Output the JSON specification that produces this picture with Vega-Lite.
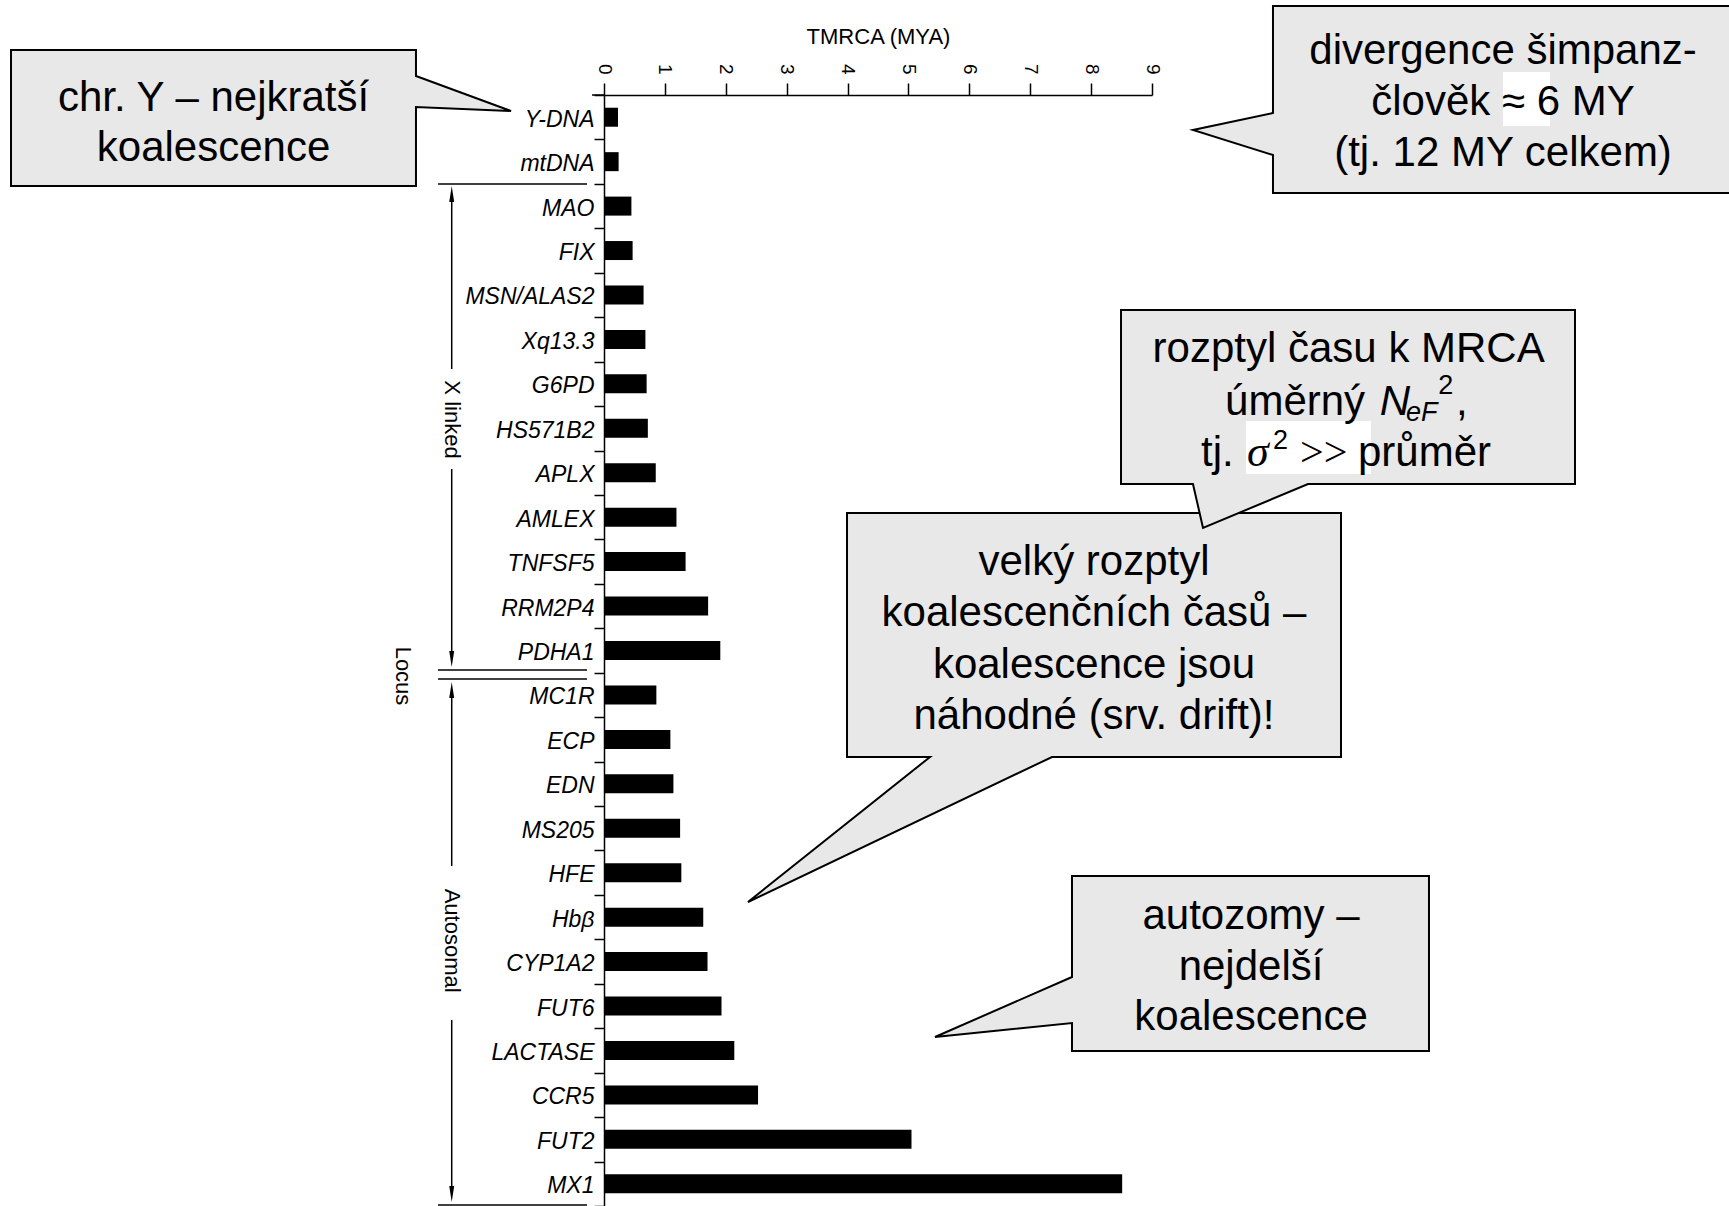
{
  "$schema": "https://vega.github.io/schema/vega-lite/v6.json",
  "autosize": {"type": "none"},
  "padding": {"left": 604, "top": 95, "right": 577, "bottom": 0},
  "width": 548,
  "height": 1111,
  "background": "white",
  "config": {"view": {"stroke": null}, "font": "Liberation Sans"},
  "datasets": {
    "loci": [
      {"locus": "Y-DNA", "tmrca": 0.23},
      {"locus": "mtDNA", "tmrca": 0.24},
      {"locus": "MAO", "tmrca": 0.45},
      {"locus": "FIX", "tmrca": 0.47},
      {"locus": "MSN/ALAS2", "tmrca": 0.65},
      {"locus": "Xq13.3", "tmrca": 0.68},
      {"locus": "G6PD", "tmrca": 0.70},
      {"locus": "HS571B2", "tmrca": 0.72},
      {"locus": "APLX", "tmrca": 0.85},
      {"locus": "AMLEX", "tmrca": 1.19},
      {"locus": "TNFSF5", "tmrca": 1.34},
      {"locus": "RRM2P4", "tmrca": 1.71},
      {"locus": "PDHA1", "tmrca": 1.91},
      {"locus": "MC1R", "tmrca": 0.86},
      {"locus": "ECP", "tmrca": 1.09},
      {"locus": "EDN", "tmrca": 1.14},
      {"locus": "MS205", "tmrca": 1.25},
      {"locus": "HFE", "tmrca": 1.27},
      {"locus": "Hbβ", "tmrca": 1.63},
      {"locus": "CYP1A2", "tmrca": 1.70},
      {"locus": "FUT6", "tmrca": 1.93},
      {"locus": "LACTASE", "tmrca": 2.14},
      {"locus": "CCR5", "tmrca": 2.53},
      {"locus": "FUT2", "tmrca": 5.05},
      {"locus": "MX1", "tmrca": 8.51}
    ],
    "shapes": [
      {"g": "b1", "i": 0, "x": -9.739, "y": -1.013},
      {"g": "b1", "i": 1, "x": -3.088, "y": -1.013},
      {"g": "b1", "i": 2, "x": -3.088, "y": -0.428},
      {"g": "b1", "i": 3, "x": -1.527, "y": 0.360},
      {"g": "b1", "i": 4, "x": -3.088, "y": 0.270},
      {"g": "b1", "i": 5, "x": -3.088, "y": 2.048},
      {"g": "b1", "i": 6, "x": -9.739, "y": 2.048},
      {"g": "b2", "i": 0, "x": 10.987, "y": -2.003},
      {"g": "b2", "i": 1, "x": 18.657, "y": -2.003},
      {"g": "b2", "i": 2, "x": 18.657, "y": 2.205},
      {"g": "b2", "i": 3, "x": 10.987, "y": 2.205},
      {"g": "b2", "i": 4, "x": 10.987, "y": 1.350},
      {"g": "b2", "i": 5, "x": 9.673, "y": 0.788},
      {"g": "b2", "i": 6, "x": 10.987, "y": 0.405},
      {"g": "b4", "i": 0, "x": 3.991, "y": 9.406},
      {"g": "b4", "i": 1, "x": 12.104, "y": 9.406},
      {"g": "b4", "i": 2, "x": 12.104, "y": 14.896},
      {"g": "b4", "i": 3, "x": 7.358, "y": 14.896},
      {"g": "b4", "i": 4, "x": 2.365, "y": 18.159},
      {"g": "b4", "i": 5, "x": 5.354, "y": 14.896},
      {"g": "b4", "i": 6, "x": 3.991, "y": 14.896},
      {"g": "b5", "i": 0, "x": 7.686, "y": 17.574},
      {"g": "b5", "i": 1, "x": 13.549, "y": 17.574},
      {"g": "b5", "i": 2, "x": 13.549, "y": 21.512},
      {"g": "b5", "i": 3, "x": 7.686, "y": 21.512},
      {"g": "b5", "i": 4, "x": 7.686, "y": 20.882},
      {"g": "b5", "i": 5, "x": 5.436, "y": 21.197},
      {"g": "b5", "i": 6, "x": 7.686, "y": 19.847},
      {"g": "b3", "i": 0, "x": 8.491, "y": 4.838},
      {"g": "b3", "i": 1, "x": 15.947, "y": 4.838},
      {"g": "b3", "i": 2, "x": 15.947, "y": 8.753},
      {"g": "b3", "i": 3, "x": 11.562, "y": 8.753},
      {"g": "b3", "i": 4, "x": 9.838, "y": 9.743},
      {"g": "b3", "i": 5, "x": 9.673, "y": 8.753},
      {"g": "b3", "i": 6, "x": 8.491, "y": 8.753}
    ],
    "boxtext": [
      {"x": -6.413, "y": 0.06, "t": "chr. Y – nejkratší"},
      {"x": -6.413, "y": 1.19, "t": "koalescence"},
      {"x": 14.765, "y": -0.995, "t": "divergence šimpanz-"},
      {"x": 14.765, "y": 0.16, "t": "člověk ≈ 6 MY"},
      {"x": 14.765, "y": 1.30, "t": "(tj. 12 MY celkem)"},
      {"x": 8.047, "y": 10.509, "t": "velký rozptyl"},
      {"x": 8.047, "y": 11.656, "t": "koalescenčních časů –"},
      {"x": 8.047, "y": 12.826, "t": "koalescence jsou"},
      {"x": 8.047, "y": 13.97, "t": "náhodné (srv. drift)!"},
      {"x": 10.626, "y": 18.475, "t": "autozomy –"},
      {"x": 10.626, "y": 19.623, "t": "nejdelší"},
      {"x": 10.626, "y": 20.748, "t": "koalescence"}
    ],
    "whites": [
      {"x": 10.544, "x2": 12.597, "y": 7.336, "y2": 8.528},
      {"x": 14.765, "x2": 15.536, "y": -0.518, "y2": 0.698}
    ],
    "rules": [
      {"x": -2.726, "x2": -0.279, "y": 2.0, "y2": 2.0},
      {"x": -2.726, "x2": -0.279, "y": 12.939, "y2": 12.939},
      {"x": -2.726, "x2": -0.279, "y": 13.141, "y2": 13.141},
      {"x": -2.726, "x2": -0.279, "y": 24.98, "y2": 24.98},
      {"x": -2.501, "x2": -2.501, "y": 2.228, "y2": 6.166},
      {"x": -2.501, "x2": -2.501, "y": 8.416, "y2": 12.691},
      {"x": -2.501, "x2": -2.501, "y": 13.389, "y2": 17.349},
      {"x": -2.501, "x2": -2.501, "y": 20.814, "y2": 24.730},
      {"x": -0.197, "x2": 0, "y": 0, "y2": 0}
    ]
  },
  "layer": [
    {
      "data": {"name": "loci"},
      "mark": {"type": "bar", "color": "black", "size": 19},
      "encoding": {
        "x": {
          "field": "tmrca", "type": "quantitative",
          "scale": {"domain": [0, 9], "nice": false, "zero": false},
          "axis": {
            "orient": "top", "values": [0, 1, 2, 3, 4, 5, 6, 7, 8, 9],
            "labelAngle": 90, "labelAlign": "right", "labelBaseline": "middle",
            "labelFontSize": 19, "labelPadding": 9, "labelColor": "black",
            "labelFlush": false, "labelOverlap": false,
            "tickSize": 12, "tickWidth": 1.5, "tickColor": "black",
            "domainColor": "black", "domainWidth": 1.5, "grid": false,
            "title": "TMRCA (MYA)", "titleFontSize": 22, "titleFontWeight": "normal",
            "titleColor": "black", "titlePadding": 15
          }
        },
        "y": {
          "field": "locus", "type": "nominal", "sort": null,
          "scale": {"paddingInner": 0, "paddingOuter": 0},
          "axis": {
            "title": null, "labelFontStyle": "italic", "labelFontSize": 23,
            "labelColor": "black", "labelPadding": 0, "labelLimit": 0, "labelOffset": 2,
            "tickBand": "extent", "tickSize": 10, "tickWidth": 1.5, "tickColor": "black",
            "domainColor": "black", "domainWidth": 1.5, "grid": false
          }
        }
      }
    },
    {
      "encoding": {
        "x": {"field": "x", "type": "quantitative", "scale": {"domain": [0, 9], "nice": false, "zero": false}, "axis": null},
        "y": {"field": "y", "type": "quantitative", "scale": {"domain": [0, 25], "nice": false, "zero": false, "reverse": true}, "axis": null}
      },
      "layer": [
        {
          "data": {"name": "shapes"},
          "transform": [{"filter": "datum.g != 'b3'"}],
          "mark": {"type": "line", "interpolate": "linear-closed", "fill": "#e8e8e8", "stroke": "black", "strokeWidth": 2, "clip": false},
          "encoding": {"detail": {"field": "g"}, "order": {"field": "i", "type": "quantitative"}}
        },
        {
          "data": {"name": "shapes"},
          "transform": [{"filter": "datum.g == 'b3'"}],
          "mark": {"type": "line", "interpolate": "linear-closed", "fill": "#e8e8e8", "stroke": "black", "strokeWidth": 2, "clip": false},
          "encoding": {"detail": {"field": "g"}, "order": {"field": "i", "type": "quantitative"}}
        },
        {
          "data": {"name": "whites"},
          "mark": {"type": "rect", "color": "white", "clip": false},
          "encoding": {"x2": {"field": "x2"}, "y2": {"field": "y2"}}
        },
        {
          "data": {"name": "boxtext"},
          "mark": {"type": "text", "fontSize": 42, "align": "center", "baseline": "middle", "color": "black", "clip": false},
          "encoding": {"text": {"field": "t"}}
        },
        {
          "data": {"values": [{"x": 12.23, "y": 6.008, "t": "rozptyl času k MRCA"}]},
          "mark": {"type": "text", "fontSize": 42, "align": "center", "baseline": "alphabetic", "color": "black", "clip": false},
          "encoding": {"text": {"field": "t"}}
        },
        {
          "data": {"values": [
            {"x": 10.2, "y": 7.201, "t": "úměrný"},
            {"x": 13.993, "y": 7.201, "t": ","},
            {"x": 9.805, "y": 8.348, "t": "tj."},
            {"x": 12.383, "y": 8.348, "t": "průměr"}
          ]},
          "mark": {"type": "text", "fontSize": 42, "align": "left", "baseline": "alphabetic", "color": "black", "clip": false},
          "encoding": {"text": {"field": "t"}}
        },
        {
          "data": {"values": [{"x": 12.74, "y": 7.201, "t": "N"}]},
          "mark": {"type": "text", "fontSize": 42, "fontStyle": "italic", "align": "left", "baseline": "alphabetic", "color": "black", "clip": false},
          "encoding": {"text": {"field": "t"}}
        },
        {
          "data": {"values": [{"x": 13.17, "y": 7.336, "t": "eF"}]},
          "mark": {"type": "text", "fontSize": 27, "fontStyle": "italic", "align": "left", "baseline": "alphabetic", "color": "black", "clip": false},
          "encoding": {"text": {"field": "t"}}
        },
        {
          "data": {"values": [{"x": 13.70, "y": 6.72, "t": "2"}, {"x": 10.987, "y": 7.966, "t": "2"}]},
          "mark": {"type": "text", "fontSize": 27, "align": "left", "baseline": "alphabetic", "color": "black", "clip": false},
          "encoding": {"text": {"field": "t"}}
        },
        {
          "data": {"values": [{"x": 10.56, "y": 8.348, "t": "σ"}]},
          "mark": {"type": "text", "font": "Liberation Serif", "fontSize": 44, "fontStyle": "italic", "align": "left", "baseline": "alphabetic", "color": "black", "clip": false},
          "encoding": {"text": {"field": "t"}}
        },
        {
          "data": {"values": [{"x": 11.431, "y": 8.348, "t": ">>"}]},
          "mark": {"type": "text", "font": "Liberation Serif", "fontSize": 42, "align": "left", "baseline": "alphabetic", "color": "black", "clip": false},
          "encoding": {"text": {"field": "t"}}
        },
        {
          "data": {"name": "rules"},
          "mark": {"type": "rule", "color": "black", "strokeWidth": 1.5, "clip": false},
          "encoding": {"x2": {"field": "x2"}, "y2": {"field": "y2"}}
        },
        {
          "data": {"values": [{"x": -2.501, "y": 2.228}, {"x": -2.501, "y": 13.389}]},
          "mark": {"type": "point", "shape": "M0,-1L0.31,1L-0.31,1Z", "size": 256, "filled": true, "color": "black", "opacity": 1, "clip": false}
        },
        {
          "data": {"values": [{"x": -2.501, "y": 12.691}, {"x": -2.501, "y": 24.73}]},
          "mark": {"type": "point", "shape": "M0,1L0.31,-1L-0.31,-1Z", "size": 256, "filled": true, "color": "black", "opacity": 1, "clip": false}
        },
        {
          "data": {"values": [
            {"x": -2.501, "y": 7.302, "t": "X linked"},
            {"x": -3.301, "y": 13.074, "t": "Locus"},
            {"x": -2.501, "y": 19.028, "t": "Autosomal"}
          ]},
          "mark": {"type": "text", "angle": 90, "fontSize": 22, "align": "center", "baseline": "middle", "color": "black", "clip": false},
          "encoding": {"text": {"field": "t"}}
        }
      ]
    }
  ],
  "resolve": {"scale": {"x": "independent", "y": "independent"}}
}
